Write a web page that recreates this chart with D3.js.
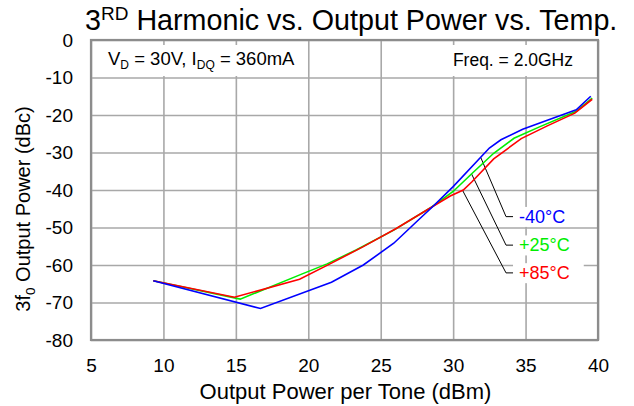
<!DOCTYPE html>
<html>
<head>
<meta charset="utf-8">
<script src="https://cdn.jsdelivr.net/npm/d3@7"></script>
<style>
  body { margin: 0; background: #fff; }
  svg { font-family: "Liberation Sans", Arial, sans-serif; display: block; }
</style>
</head>
<body>
<div id="chart"></div>
<script>
// Chart size and plot margins
const width = 634;
const height = 406;
const margin = { top: 40, right: 36, bottom: 66, left: 91 };

// Axis ticks
const xTicks = [5, 10, 15, 20, 25, 30, 35, 40];
const yTicks = [0, -10, -20, -30, -40, -50, -60, -70, -80];

// -40°C curve
const pM40 = [9.3, 16.7, 21.6, 23.8, 25.9, 27.6, 28.6, 30.0, 32.5, 33.3, 34.8, 36.5, 38.5, 39.5];
const hM40 = [-64.2, -71.6, -64.6, -60.0, -54.2, -48.0, -44.4, -39.1, -28.8, -26.6, -23.8, -21.4, -18.6, -15.0];

// +25°C curve
const p25 = [9.3, 15.3, 19.5, 21.3, 23.3, 25.9, 28.5, 30.0, 31.3, 32.8, 34.2, 36.0, 38.5, 39.6];
const h25 = [-64.2, -69.1, -62.5, -59.7, -56.0, -50.7, -44.6, -40.4, -35.6, -30.2, -26.2, -23.1, -19.0, -15.5];

// +85°C curve
const p85 = [9.3, 14.9, 19.4, 21.5, 23.8, 26.1, 28.5, 29.8, 30.7, 31.3, 32.8, 34.7, 36.5, 38.4, 39.6];
const h85 = [-64.2, -68.6, -63.8, -59.7, -55.1, -50.2, -44.6, -41.6, -40.0, -37.8, -31.7, -26.3, -22.9, -19.5, -15.8];

// Callouts: label, where the leader touches the curve (x), label row (y)
const tempNames = ['-40°C', '+25°C', '+85°C'];
const tempColors = ['#0000ff', '#00ee00', '#ff0000'];
const calloutX = [31.9, 31.27, 30.65];
const calloutY = [-47.1, -54.7, -62.1];

const series = [
    { x: pM40, y: hM40 },
    { x: p25, y: h25 },
    { x: p85, y: h85 }
];

const innerW = width - margin.left - margin.right;
const innerH = height - margin.top - margin.bottom;

const xScale = d3.scaleLinear().domain([5, 40]).range([margin.left, margin.left + innerW]);
const yScale = d3.scaleLinear().domain([-80, 0]).range([margin.top + innerH, margin.top]);

const svg = d3.select('#chart')
    .append('svg')
    .attr('width', width)
    .attr('height', height);

// grid + tick labels through axes
const xAxis = d3.axisBottom(xScale)
    .tickValues(xTicks)
    .tickSizeInner(-innerH)
    .tickSizeOuter(0)
    .tickPadding(18.5);

const yAxis = d3.axisLeft(yScale)
    .tickValues(yTicks)
    .tickSizeInner(-innerW)
    .tickSizeOuter(0)
    .tickPadding(18)
    .tickFormat(d => String(d));

const gx = svg.append('g')
    .attr('transform', `translate(0, ${margin.top + innerH})`)
    .call(xAxis);
const gy = svg.append('g')
    .attr('transform', `translate(${margin.left}, 0)`)
    .call(yAxis);

[gx, gy].forEach(g => {
    g.select('.domain').remove();
    g.selectAll('line').attr('stroke', '#a8a8a8').attr('stroke-width', 1.6);
    g.selectAll('text')
        .attr('fill', '#000')
        .attr('font-size', 19)
        .attr('font-family', '"Liberation Sans", Arial, sans-serif');
});

// white boxes behind the condition notes
svg.append('rect')
    .attr('x', 94).attr('y', 45).attr('width', 210).attr('height', 31)
    .attr('fill', '#fff');
svg.append('rect')
    .attr('x', 432).attr('y', 45).attr('width', 164).attr('height', 31)
    .attr('fill', '#fff');

const notes = svg.append('g').attr('font-size', 18.5).attr('fill', '#000');
const vd = notes.append('text').attr('x', 108).attr('y', 65);
vd.append('tspan').text('V');
vd.append('tspan').attr('font-size', 12).attr('dy', 4).text('D');
vd.append('tspan').attr('dy', -4).text(' = 30V, I');
vd.append('tspan').attr('font-size', 12).attr('dy', 4).text('DQ');
vd.append('tspan').attr('dy', -4).text(' = 360mA');

notes.append('text')
    .attr('x', 573).attr('y', 66)
    .attr('text-anchor', 'end')
    .attr('font-size', 17.5)
    .text('Freq. = 2.0GHz');

// find the curve level at a given power (for the leader lines)
function levelAt(s, xv) {
    for (let i = 1; i < s.x.length; i++) {
        if (xv <= s.x[i]) {
            const t = (xv - s.x[i - 1]) / (s.x[i] - s.x[i - 1]);
            return s.y[i - 1] + t * (s.y[i] - s.y[i - 1]);
        }
    }
    return s.y[s.y.length - 1];
}

// leader lines
const elbowX = xScale(33.65);
series.forEach((s, i) => {
    const yl = yScale(calloutY[i]);
    svg.append('polyline')
        .attr('points', [
            [xScale(calloutX[i]), yScale(levelAt(s, calloutX[i]))],
            [elbowX, yl],
            [elbowX + 11.5, yl]
        ].map(p => p.join(',')).join(' '))
        .attr('fill', 'none')
        .attr('stroke', '#000')
        .attr('stroke-width', 1);
});

// curves
const line = d3.line()
    .x(d => xScale(d[0]))
    .y(d => yScale(d[1]));

// draw blue last so it sits on top like the original
[1, 2, 0].forEach(i => {
    const s = series[i];
    svg.append('path')
        .datum(s.x.map((v, j) => [v, s.y[j]]))
        .attr('d', line)
        .attr('fill', 'none')
        .attr('stroke', tempColors[i])
        .attr('stroke-width', 1.6);
});

// temperature labels with white background
series.forEach((s, i) => {
    const yl = yScale(calloutY[i]);
    const t = svg.append('text')
        .attr('x', elbowX + 13)
        .attr('y', yl)
        .attr('dy', '0.35em')
        .attr('font-size', 18)
        .attr('fill', tempColors[i])
        .text(tempNames[i]);
    const bb = t.node().getBBox();
    svg.insert('rect', 'path')
        .attr('x', bb.x - 6)
        .attr('y', bb.y)
        .attr('width', Math.min(bb.width + 20, xScale(40) - bb.x + 6))
        .attr('height', bb.height)
        .attr('fill', '#fff');
});

// plot border
svg.append('rect')
    .attr('x', margin.left)
    .attr('y', margin.top)
    .attr('width', innerW)
    .attr('height', innerH)
    .attr('fill', 'none')
    .attr('stroke', '#8c8c8c')
    .attr('stroke-width', 2.2);

// title
const title = svg.append('text')
    .attr('x', 85)
    .attr('y', 30)
    .attr('font-size', 28.7)
    .attr('fill', '#000');
title.append('tspan').text('3');
title.append('tspan').attr('font-size', 19).attr('dy', -10).text('RD');
title.append('tspan').attr('dy', 10).text(' Harmonic vs. Output Power vs. Temp.');

// axis titles
svg.append('text')
    .attr('x', xScale(22.5) + 1)
    .attr('y', 399)
    .attr('text-anchor', 'middle')
    .attr('font-size', 22)
    .text('Output Power per Tone (dBm)');

const yt = svg.append('text')
    .attr('transform', 'translate(29.5, 209) rotate(-90)')
    .attr('text-anchor', 'middle')
    .attr('font-size', 20);
yt.append('tspan').text('3f');
yt.append('tspan').attr('font-size', 13.5).attr('dy', 5).text('0');
yt.append('tspan').attr('dy', -5).text(' Output Power (dBc)');
</script>
</body>
</html>
